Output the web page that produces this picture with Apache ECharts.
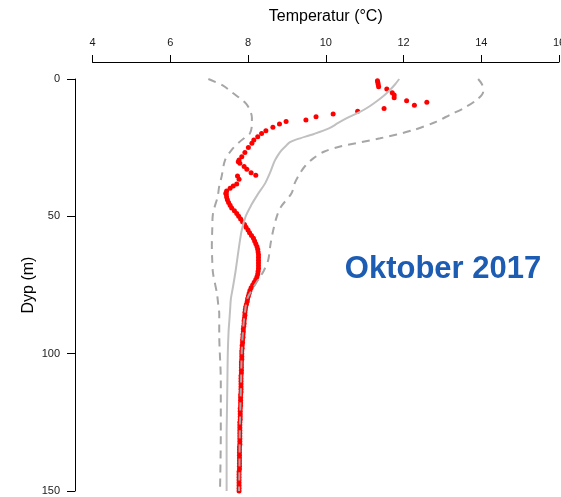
<!DOCTYPE html>
<html>
<head>
<meta charset="utf-8">
<script src="https://cdn.jsdelivr.net/npm/echarts@6/dist/echarts.min.js"></script>
<style>
html,body{margin:0;padding:0;background:#fff;}
#chart{width:561px;height:497px;}
</style>
</head>
<body>
<div id="chart"></div>
<script>
// Axis ticks
const tempTicks = [4, 6, 8, 10, 12, 14, 16];
const depthTicks = [0, 50, 100, 150];

// Mean profile (solid grey)
const meanDepth = [0, 2, 4, 6, 8, 10, 12, 14, 16, 18, 20, 22, 23, 24, 26, 28, 30, 34, 38, 42, 46, 50, 55, 60, 66, 70, 76, 80, 84, 88, 92, 100, 110, 120, 130, 150];
const meanTemp  = [11.89, 11.78, 11.65, 11.5, 11.32, 11.12, 10.88, 10.58, 10.32, 10.08, 9.7, 9.25, 9.08, 9.0, 8.86, 8.76, 8.68, 8.57, 8.44, 8.25, 8.08, 7.94, 7.84, 7.78, 7.72, 7.68, 7.61, 7.56, 7.54, 7.52, 7.5, 7.48, 7.47, 7.46, 7.45, 7.45];

// Lower envelope (dashed grey)
const lowDepth = [0, 2.4, 5, 7, 9, 11.3, 14, 16.7, 19.8, 21, 22.8, 25.8, 29.5, 35.6, 39, 42.8, 48.9, 55, 61, 66, 70.7, 78, 82.9, 85.3, 92.6, 110, 129, 150];
const lowTemp  = [6.98, 7.36, 7.6, 7.79, 7.95, 8.05, 8.1, 8.1, 8.05, 7.95, 7.79, 7.58, 7.41, 7.32, 7.26, 7.22, 7.1, 7.08, 7.07, 7.08, 7.1, 7.2, 7.24, 7.26, 7.26, 7.3, 7.3, 7.28];

// Upper envelope (dashed grey)
const highDepth = [0, 2, 4.6, 7.6, 10.7, 13, 15.5, 18.6, 21.6, 24.6, 26.5, 28.9, 31.5, 34.3, 38, 41.6, 46.5, 50.1, 55, 60, 65.9, 70, 72, 76.8, 80, 85, 90, 99, 111, 127, 141, 150];
const highTemp  = [13.92, 14.02, 14.05, 13.88, 13.54, 13.2, 12.85, 12.25, 11.4, 10.37, 9.95, 9.68, 9.48, 9.34, 9.2, 9.12, 8.85, 8.74, 8.65, 8.58, 8.52, 8.4, 8.31, 8.1, 7.98, 7.92, 7.88, 7.84, 7.82, 7.79, 7.78, 7.77];

// Observations October 2017 (red dots)
const obsDepth = [0.6, 1.3, 2.0, 2.8, 3.6, 5.0, 5.8, 6.8, 7.9, 8.5, 9.6, 10.7, 11.7, 12.7, 13.7, 14.9, 15.5, 16.4, 17.6, 18.8, 19.8, 21.0, 22.2, 23.4, 24.9, 26.8, 28.3, 29.5, 30.1, 30.7, 31.9, 32.9, 34.1, 35.0, 35.3, 36.5, 38.2, 39.0, 39.8, 40.8, 41.6,
  42, 43, 44, 45, 46, 47, 48, 49, 50, 51, 52, 53, 54, 55, 56, 57, 58, 59, 60, 61, 62, 63, 64, 65, 66, 67, 68, 69, 70, 71, 72, 73, 74, 75, 76, 77, 78, 79, 80,
  81, 82, 83, 84, 85, 86, 87, 88, 89, 90, 91, 92, 93, 94, 95, 96, 97, 98, 99, 100, 101, 102, 103, 104, 105, 106, 107, 108, 109, 110, 111, 112, 113, 114, 115,
  116, 117, 118, 119, 120, 121, 122, 123, 124, 125, 126, 127, 128, 129, 130, 131, 132, 133, 134, 135, 136, 137, 138, 139, 140, 141, 142, 143, 144, 145, 146, 147, 148, 149, 150];
const obsTemp = [11.33, 11.34, 11.35, 11.36, 11.57, 11.71, 11.76, 11.76, 12.08, 12.6, 12.28, 11.5, 10.82, 10.19, 9.75, 9.49, 8.98, 8.81, 8.64, 8.46, 8.35, 8.25, 8.15, 8.1, 8.01, 7.92, 7.84, 7.77, 7.75, 7.79, 7.9, 7.97, 8.08, 8.2, 7.73, 7.77, 7.71, 7.62, 7.54, 7.45, 7.43,
  7.44, 7.45, 7.47, 7.5, 7.54, 7.58, 7.65, 7.71, 7.76, 7.81, 7.86, 7.91, 7.95, 8.0, 8.04, 8.09, 8.14, 8.17, 8.2, 8.23, 8.25, 8.26, 8.27, 8.27, 8.27, 8.27, 8.27, 8.27, 8.26, 8.25, 8.23, 8.2, 8.16, 8.12, 8.08, 8.05, 8.03, 8.01, 7.99, 7.98,
  7.96, 7.94, 7.93, 7.92, 7.92, 7.91, 7.9, 7.9, 7.89, 7.88, 7.88, 7.87, 7.87, 7.86, 7.86, 7.85, 7.85, 7.84, 7.84, 7.84, 7.84, 7.83, 7.83, 7.83, 7.83, 7.83, 7.82, 7.82, 7.82, 7.82, 7.82, 7.82, 7.82, 7.81, 7.81,
  7.81, 7.81, 7.81, 7.8, 7.8, 7.8, 7.8, 7.8, 7.79, 7.79, 7.79, 7.79, 7.79, 7.79, 7.79, 7.79, 7.79, 7.78, 7.78, 7.78, 7.78, 7.78, 7.78, 7.78, 7.78, 7.78, 7.77, 7.77, 7.77, 7.77, 7.77, 7.77, 7.77, 7.77, 7.77];

const pairs = (t, d) => t.map((v, i) => [v, d[i]]);

const chart = echarts.init(document.getElementById('chart'), null, {renderer: 'canvas'});
const FONT = 'Liberation Sans, Arial, sans-serif';
chart.setOption({
  animation: false,
  grid: {left: 92.5, right: 2, top: 79, bottom: 6, containLabel: false, outerBoundsMode: 'none'},
  xAxis: {
    type: 'value', position: 'top', offset: 17,
    min: tempTicks[0], max: tempTicks[tempTicks.length - 1], interval: 2,
    name: 'Temperatur (°C)', nameLocation: 'middle', nameGap: 37,
    nameTextStyle: {fontFamily: FONT, fontSize: 16, color: '#000'},
    axisLine: {show: true, onZero: false, lineStyle: {color: '#000', width: 1}},
    axisTick: {show: true, length: 7, lineStyle: {color: '#000'}},
    axisLabel: {fontFamily: FONT, fontSize: 11, color: '#1a1a1a', margin: 14, showMaxLabel: true, showMinLabel: true},
    splitLine: {show: false}
  },
  yAxis: {
    type: 'value', inverse: true, offset: 17.5,
    min: depthTicks[0], max: depthTicks[depthTicks.length - 1], interval: 50,
    name: 'Dyp (m)', nameLocation: 'middle', nameGap: 38, nameMoveOverlap: false,
    nameTextStyle: {fontFamily: FONT, fontSize: 16, color: '#000'},
    axisLine: {show: true, onZero: false, lineStyle: {color: '#000', width: 1}},
    axisTick: {show: true, length: 8, lineStyle: {color: '#000'}},
    axisLabel: {fontFamily: FONT, fontSize: 11, color: '#1a1a1a', margin: 15},
    splitLine: {show: false}
  },
  graphic: [{
    type: 'text', x: 443, y: 269,
    style: {text: 'Oktober 2017', font: 'bold 31px Liberation Sans, Arial, sans-serif', fill: '#1c5cb2', textAlign: 'center', textVerticalAlign: 'middle'}
  }],
  series: [
    {type: 'line', data: pairs(lowTemp, lowDepth), showSymbol: false, smooth: 0.3,
     lineStyle: {color: '#a6a6a6', width: 2, type: [8, 6]}},
    {type: 'line', data: pairs(highTemp, highDepth), showSymbol: false, smooth: 0.3,
     lineStyle: {color: '#a6a6a6', width: 2, type: [8, 6]}},
    {type: 'line', data: pairs(meanTemp, meanDepth), showSymbol: false, smooth: 0.3,
     lineStyle: {color: '#c0c0c0', width: 2}},
    {type: 'scatter', data: pairs(obsTemp, obsDepth), symbol: 'circle', symbolSize: 5,
     itemStyle: {color: '#ff0000', opacity: 1}}
  ]
});
</script>
</body>
</html>
